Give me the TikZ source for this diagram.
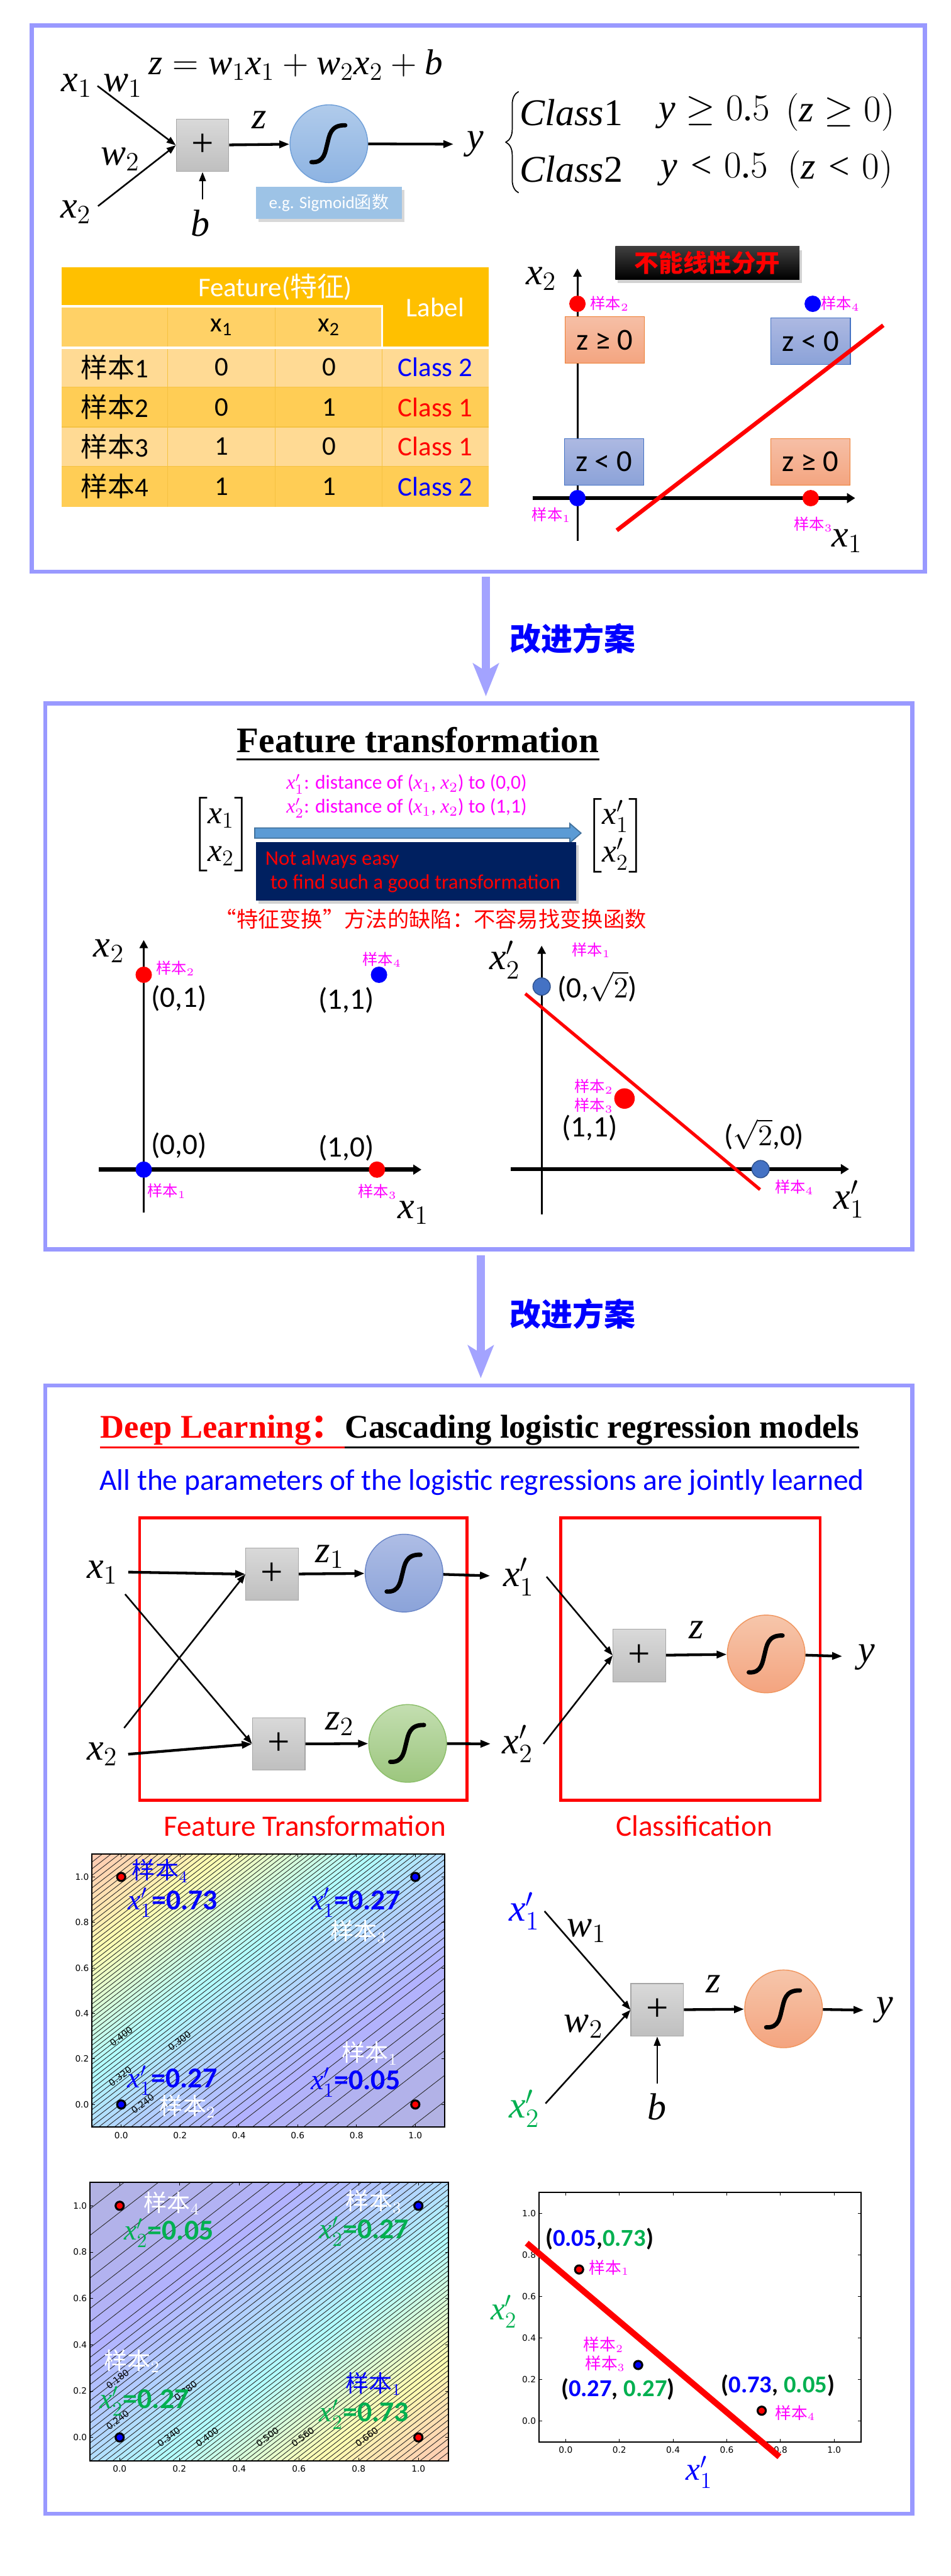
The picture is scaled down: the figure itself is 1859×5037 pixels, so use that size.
\documentclass[tikz,border=0pt]{standalone}
\usepackage{fix-cm}
\usepackage{amsmath}
\usepackage{fontspec}
\setmainfont{Liberation Serif}
\setsansfont{Carlito}
\newfontfamily\cjk{Noto Sans CJK SC}
\newfontfamily\dvs{DejaVu Sans}
\newfontfamily\lsr{Liberation Serif}[NFSSFamily=libser]
\DeclareSymbolFont{operators}{TU}{libser}{m}{n}
\DeclareSymbolFont{letters}{TU}{libser}{m}{it}
\mathcode`\,="602C
\mathcode`\.="002E
\usetikzlibrary{arrows.meta, positioning, shadows, decorations.pathreplacing, calc}

\definecolor{lav}{HTML}{9999FF}
\definecolor{lavarr}{HTML}{A3A3FF}
\definecolor{pluse}{HTML}{A6A6A6}
\definecolor{plust}{HTML}{D9D9D9}
\definecolor{plusb}{HTML}{BFBFBF}
\definecolor{skye}{HTML}{6F9FD8}
\definecolor{skyt}{HTML}{B0CBEB}
\definecolor{skyb}{HTML}{8DB3E2}
\definecolor{bluee}{HTML}{6A86C8}
\definecolor{bluet}{HTML}{AEBDE5}
\definecolor{blueb}{HTML}{8BA3D9}
\definecolor{grne}{HTML}{8CBF6A}
\definecolor{grnt}{HTML}{C3DEB0}
\definecolor{grnb}{HTML}{9CC67E}
\definecolor{orae}{HTML}{F0955E}
\definecolor{orat}{HTML}{F6C6AB}
\definecolor{orab}{HTML}{F4A47F}
\definecolor{egblue}{HTML}{9DC3E6}
\definecolor{tabhead}{HTML}{FFC000}
\definecolor{tabsub}{HTML}{FFD166}
\definecolor{tablight}{HTML}{FFDA94}
\definecolor{tabdark}{HTML}{FFCD55}
\definecolor{tabline}{HTML}{F5C242}
\definecolor{sale}{HTML}{ED7D31}
\definecolor{salt}{HTML}{F6BFA6}
\definecolor{salb}{HTML}{F4A580}
\definecolor{zbe}{HTML}{4472C4}
\definecolor{zbt}{HTML}{ADB9E2}
\definecolor{zbb}{HTML}{8BA2D8}
\definecolor{tfblue}{HTML}{5B9BD5}
\definecolor{tfedge}{HTML}{41719C}
\definecolor{navy}{HTML}{002060}
\definecolor{steel}{HTML}{4472C4}
\definecolor{steele}{HTML}{2F528F}
\definecolor{mag}{HTML}{FF00FF}
\definecolor{grn}{HTML}{00B050}

\newcommand\jetcolor[1]{%
  \pgfmathsetmacro\jr{0.7+0.3*max(0,min(1,1.5-abs(4*(#1)-3)))}%
  \pgfmathsetmacro\jg{0.7+0.3*max(0,min(1,1.5-abs(4*(#1)-2)))}%
  \pgfmathsetmacro\jb{0.7+0.3*max(0,min(1,1.5-abs(4*(#1)-1)))}%
  \definecolor{bandc}{rgb}{\jr,\jg,\jb}}

\newcommand\plotframe[1]{%
  \draw[line width=0.7pt] (-0.1,-0.1) rectangle (1.1,1.1);
  \foreach \t/\lab [count=\i] in {0/0.0,0.2/0.2,0.4/0.4,0.6/0.6,0.8/0.8,1/1.0}{
    \draw[line width=0.3pt] (\t,-0.1) -- ++(0,0.6mm) (\t,1.1) -- ++(0,-0.6mm)
      (-0.1,\t) -- ++(0.6mm,0) (1.1,\t) -- ++(-0.6mm,0);
    \node[tklab, anchor=north] (#1x\i) at ([yshift=-0.9mm]\t,-0.1) {\lab};
    \node[tklab, anchor=east] (#1y\i) at ([xshift=-0.5mm]-0.1,\t) {\lab};
  }}

\begin{document}
\begin{tikzpicture}[x=0.1mm, y=-0.1mm,
  mth/.style={inner sep=0pt, font=\fontsize{21}{21}\selectfont},
  mtx/.style={inner sep=0pt, font=\fontsize{18}{21}\selectfont},
  bigbox/.style={draw=lav, line width=2.3pt},
  lavarrow/.style={draw=lavarr, line width=4.6pt, -{Stealth[length=6.4mm, width=5mm, inset=1.5mm, fill=lavarr]}},
  plusbox/.style={draw=pluse, top color=plust, bottom color=plusb, minimum size=10.3mm, inner sep=0pt, font=\fontsize{22}{22}\selectfont},
  sigb/.style={circle, minimum size=15.2mm, inner sep=0pt, draw=#1e, top color=#1t, bottom color=#1b, line width=0.5pt},
  arr/.style={line width=1.5pt, -{Triangle[length=2mm, width=1.4mm]}},
  thinarr/.style={line width=0.9pt, -{Triangle[length=1.8mm, width=1.3mm]}},
  smp/.style={inner sep=0pt, text=mag, font=\cjk\fontsize{8.5}{8.5}\selectfont},
  crd/.style={inner sep=0pt, font=\sffamily\fontsize{16.5}{16.5}\selectfont},
  tabtxt/.style={inner sep=0pt, font=\sffamily\fontsize{15}{15}\selectfont},
  zbox/.style={draw=#1e, top color=#1t, bottom color=#1b, minimum width=15.5mm, minimum height=9.1mm, inner sep=0pt, font=\sffamily\fontsize{17}{17}\selectfont},
  improve/.style={inner sep=0pt, text=blue, font=\cjk\bfseries\fontsize{17.5}{17.5}\selectfont},
  egbox/.style={fill=egblue, text=white, minimum width=28.5mm, minimum height=6.3mm, inner sep=0pt, font=\sffamily\fontsize{9.5}{9.5}\selectfont, drop shadow={shadow xshift=0.5mm, shadow yshift=-0.6mm, opacity=0.3}},
  blkbox/.style={top color=black!75, bottom color=black, text=red, minimum width=36mm, minimum height=6.4mm, inner sep=0pt, font=\cjk\bfseries\fontsize{13.5}{13.5}\selectfont, drop shadow={shadow xshift=0.5mm, shadow yshift=-0.7mm, opacity=0.35}},
  navybox/.style={fill=navy, minimum width=62.6mm, minimum height=11.5mm, inner sep=0pt, drop shadow={shadow xshift=0.5mm, shadow yshift=-0.6mm, opacity=0.35}},
  navtxt/.style={inner sep=0pt, text=red, font=\sffamily\fontsize{11.5}{11.5}\selectfont},
  ttl/.style={inner sep=0pt, font=\bfseries\fontsize{20}{20}\selectfont},
  redbox/.style={draw=red, line width=1.7pt},
  redlab/.style={inner sep=0pt, text=red, font=\sffamily\fontsize{16.5}{16.5}\selectfont},
  tklab/.style={inner sep=0pt, font=\dvs\fontsize{4.8}{4.8}\selectfont},
  clab/.style={inner sep=0pt, rotate=37, font=\dvs\fontsize{5}{5}\selectfont},
  smpbig/.style={inner sep=0pt, font=\cjk\fontsize{13}{13}\selectfont},
  valtxt/.style={inner sep=0pt, font=\sffamily\bfseries\fontsize{16}{16}\selectfont},
  ptxt/.style={inner sep=0pt, font=\sffamily\bfseries\fontsize{13.5}{13.5}\selectfont},
  cline/.style={line width=0.3pt, black!85},
  mk/.style={draw=black, line width=1.1pt},
  sshape/.pic={\draw[line width=2.4pt, line cap=round] (-34,36) .. controls (-8,38) and (-7,14) .. (-3,0) .. controls (1,-16) and (3,-37) .. (32,-36);},
]
\useasboundingbox (0,0) rectangle (1859,5037);
\fill[white] (0,0) rectangle (1859,5037);

% panel 1
\node[bigbox, minimum width=174.6mm, minimum height=106.8mm] (boxA) at (935,584) {};
\node[plusbox] (sumA) at (396,284) {+};
\node[sigb=sky] (sigA) at (643,281) {};
\pic at (sigA) {sshape};
\node[mth, font=\fontsize{20}{20}\selectfont] (eqA) at (578,127) {$z=w_1x_1+w_2x_2+b$};
\node[mth] (xA1) at (150,168) {$x_1$};
\node[mth] (wA1) at (240,168) {$w_1$};
\node[mth] (wA2) at (235,311) {$w_2$};
\node[mth] (xA2) at (148,415) {$x_2$};
\node[mth] (bA) at (392,437) {$b$};
\node[mth] (zA) at (507,235) {$z$};
\node[mth] (yA) at (930,282) {$y$};
\node[egbox] (egA) at (643,397) {e.g. Sigmoid{\cjk 函数}};
\draw[thinarr] ([xshift=1mm]xA1.east) -- (sumA.west);
\draw[thinarr] ([xshift=1.3mm, yshift=1.2mm]xA2.east) -- (sumA.west);
\draw[thinarr] ($(sumA.south |- bA.north)+(0,-20)$) -- (sumA.south);
\draw[arr] (sumA) -- (sigA);
\draw[arr, shorten >=2.6mm] (sigA) -- (yA);

\draw[decorate, decoration={brace, amplitude=2.5mm}, line width=0.6pt] (1014,377) -- (1014,179);
\node[mth] (c1a) at (1117,220) {\textit{Class}1};
\node[mth] (c1b) at (1397,220) {$y\geq0.5$};
\node[mth] (c1c) at (1643,220) {$(z\geq0)$};
\node[mth] (c2a) at (1117,331) {\textit{Class}2};
\node[mth] (c2b) at (1397,331) {$y<0.5$};
\node[mth] (c2c) at (1643,331) {$(z<0)$};

\fill[tabhead] (121,523) rectangle (956,599);
\fill[tabhead] (747,599) rectangle (956,680);
\fill[tabsub] (121,599) rectangle (747,680);
\fill[tablight] (121,680) rectangle (956,757);
\fill[tabdark] (121,757) rectangle (956,835);
\fill[tablight] (121,835) rectangle (956,912);
\fill[tabdark] (121,912) rectangle (956,991);
\draw[tabline, line width=0.5pt] (121,757) -- (956,757) (121,835) -- (956,835) (121,912) -- (956,912)
  (328,599) -- (328,991) (538,599) -- (538,991) (747,680) -- (747,991);
\draw[white, line width=1.3pt] (121,599) -- (747,599) -- (747,680) (121,680) -- (956,680);
\node[tabtxt, text=white] (tFeat) at (538,561) {Feature({\cjk 特征})};
\node[tabtxt, text=white] (tLab) at (851,601) {Label};
\node[tabtxt] (tX1) at (433,640) {x\textsubscript{1}};
\node[tabtxt] (tX2) at (643,640) {x\textsubscript{2}};
\foreach \r/\y/\a/\b/\c/\col in {1/718/0/0/2/blue, 2/796/0/1/1/red, 3/873/1/0/1/red, 4/951/1/1/2/blue}{
  \node[tabtxt] (tS\r) at (224,\y) {{\cjk 样本}\r};
  \node[tabtxt] (tA\r) at (433,\y) {\a};
  \node[tabtxt] (tB\r) at (643,\y) {\b};
  \node[tabtxt, text=\col] (tC\r) at (851,\y) {Class \c};
}

\draw[line width=1.1pt, -{Triangle[length=1.6mm, width=1.6mm]}] (1129,1058) -- (1129,525);
\draw[line width=2.3pt, -{Triangle[length=1.6mm, width=1.9mm]}] (1041,974) -- (1672,974);
\node[mth] (ax2A) at (1058,545) {$x_2$};
\node[mth] (ax1A) at (1656,1058) {$x_1$};
\node[zbox=sal] (zrA1) at (1182,665) {z ≥ 0};
\node[zbox=zb] (zrA2) at (1585,667) {z < 0};
\node[zbox=zb] (zrA3) at (1181,903) {z < 0};
\node[zbox=sal] (zrA4) at (1584,903) {z ≥ 0};
\draw[red, line width=2.3pt] (1206,1037) -- (1727,636);
\fill[red] (1129,594) circle[radius=1.6mm];
\fill[blue] (1589,594) circle[radius=1.6mm];
\fill[blue] (1129,974) circle[radius=1.6mm];
\fill[red] (1585,974) circle[radius=1.6mm];
\node[smp] (sA2) at (1192,594) {样本$_2$};
\node[smp] (sA4) at (1643,594) {样本$_4$};
\node[smp] (sA1) at (1078,1007) {样本$_1$};
\node[smp] (sA3) at (1590,1025) {样本$_3$};
\node[blkbox] (nolin) at (1383,514) {不能线性分开};

% arrow to panel 2
\node[bigbox, minimum width=169.5mm, minimum height=106.7mm] (boxB) at (936,1909) {};
\coordinate (arrA) at (950,0);
\draw[lavarrow, shorten <=0.6mm, shorten >=1mm] (boxA.south -| arrA) -- (boxB.north -| arrA);
\node[improve] (impA) at (1120,1248) {改进方案};

% panel 2
\node[ttl, anchor=base] (ftTitle) at (817,1471) {Feature transformation};
\draw[line width=0.9pt] ($(ftTitle.base west)+(0,14)$) -- ($(ftTitle.base east)+(0,14)$);
\node[inner sep=0pt, text=mag, font=\sffamily\fontsize{11}{11}\selectfont] (dst1) at (795,1533) {$x_1'$: distance of ($x_1$, $x_2$) to (0,0)};
\node[inner sep=0pt, text=mag, font=\sffamily\fontsize{11}{11}\selectfont] (dst2) at (795,1580) {$x_2'$: distance of ($x_1$, $x_2$) to (1,1)};
\node[mtx] (mIn) at (432,1632) {$\begin{bmatrix}x_1\\x_2\end{bmatrix}$};
\node[mtx] (mOut) at (1203,1634) {$\begin{bmatrix}x_1'\\x_2'\end{bmatrix}$};
\fill[tfblue, draw=tfedge, line width=0.6pt] (498,1619) -- (1114,1619) -- (1114,1610) -- (1136,1629) -- (1114,1648) -- (1114,1639) -- (498,1639) -- cycle;
\node[navybox] (hard) at (813,1704) {};
\node[navtxt, anchor=west] (hard1) at (518,1681) {Not always easy};
\node[navtxt, anchor=west] (hard2) at (528,1728) {to find such a good transformation};
\node[inner sep=0pt, text=red, font=\cjk\fontsize{12}{12}\selectfont] (defect) at (842,1797) {“特征变换”方法的缺陷：不容易找变换函数};

\draw[line width=1.1pt, -{Triangle[length=1.6mm, width=1.6mm]}] (281,2371) -- (281,1838);
\draw[line width=2.3pt, -{Triangle[length=1.6mm, width=1.9mm]}] (193,2287) -- (824,2287);
\node[mth] (lx2) at (213,1859) {$x_2$};
\node[mth] (lx1) at (808,2371) {$x_1$};
\fill[red] (281,1906) circle[radius=1.6mm];
\fill[blue] (741,1906) circle[radius=1.6mm];
\fill[blue] (281,2287) circle[radius=1.6mm];
\fill[red] (737,2287) circle[radius=1.6mm];
\node[smp] (sB2) at (343,1893) {样本$_2$};
\node[smp] (sB4) at (747,1876) {样本$_4$};
\node[smp] (sB1) at (326,2329) {样本$_1$};
\node[smp] (sB3) at (738,2330) {样本$_3$};
\node[crd] (cB01) at (350,1952) {(0,1)};
\node[crd] (cB11) at (677,1956) {(1,1)};
\node[crd] (cB00) at (350,2240) {(0,0)};
\node[crd] (cB10) at (677,2245) {(1,0)};

\draw[line width=1.1pt, -{Triangle[length=1.6mm, width=1.6mm]}] (1059,2374) -- (1059,1849);
\draw[line width=2.3pt, -{Triangle[length=1.6mm, width=1.9mm]}] (999,2286) -- (1660,2286);
\node[mth] (rx2) at (987,1877) {$x_2'$};
\node[mth] (rx1) at (1660,2345) {$x_1'$};
\draw[red, line width=1.8pt] (1027,1943) -- (1486,2326);
\filldraw[fill=steel, draw=steele, line width=0.5pt] (1059,1929) circle[radius=1.7mm];
\filldraw[fill=steel, draw=steele, line width=0.5pt] (1487,2286) circle[radius=1.7mm];
\fill[red] (1221,2148) circle[radius=2mm];
\node[smp] (sC1) at (1156,1858) {样本$_1$};
\node[smp] (sC2) at (1161,2125) {样本$_2$};
\node[smp] (sC3) at (1161,2161) {样本$_3$};
\node[smp] (sC4) at (1553,2322) {样本$_4$};
\node[crd] (cC0r) at (1168,1929) {(0,$\sqrt{2}$)};
\node[crd] (cC11) at (1153,2205) {(1,1)};
\node[crd] (cCr0) at (1494,2218) {($\sqrt{2}$,0)};

% arrow to panel 3
\node[bigbox, minimum width=169.5mm, minimum height=220.6mm] (boxC) at (936,3812) {};
\coordinate (arrB) at (940,0);
\draw[lavarrow, shorten <=0.8mm, shorten >=1mm] (boxB.south -| arrB) -- (boxC.north -| arrB);
\node[improve] (impB) at (1120,2569) {改进方案};

% panel 3
\node[ttl, anchor=base west, text=red, font=\bfseries\fontsize{18.4}{18.4}\selectfont] (dlA) at (196,2812) {Deep Learning{\cjk ：}};
\node[ttl, anchor=base west, font=\bfseries\fontsize{18.4}{18.4}\selectfont] (dlB) at (dlA.base east) {Cascading logistic regression models};
\draw[red, line width=0.9pt] ($(dlA.base west)+(0,18)$) -- ($(dlB.base west)+(0,18)$);
\draw[line width=0.9pt] ($(dlB.base west)+(0,18)$) -- ($(dlB.base east)+(0,18)$);
\node[inner sep=0pt, text=blue, font=\sffamily\fontsize{16.6}{16.6}\selectfont] (joint) at (942,2898) {All the parameters of the logistic regressions are jointly learned};

\node[redbox, minimum width=64mm, minimum height=55.2mm] (ftBox) at (593,3244) {};
\node[redbox, minimum width=50.7mm, minimum height=55.2mm] (clsBox) at (1350,3244) {};
\node[redlab] (ftLab) at (596,3570) {Feature Transformation};
\node[redlab] (clsLab) at (1357,3570) {Classification};

\node[mth] (xB1) at (200,3074) {$x_1$};
\node[mth] (xB2) at (200,3430) {$x_2$};
\node[plusbox] (sumB1) at (532,3078) {+};
\node[plusbox] (sumB2) at (545,3410) {+};
\node[mth] (zB1) at (645,3044) {$z_1$};
\node[mth] (zB2) at (664,3371) {$z_2$};
\node[sigb=blue] (sigB1) at (790,3076) {};
\node[sigb=grn] (sigB2) at (797,3409) {};
\pic at (sigB1) {sshape};
\pic at (sigB2) {sshape};
\node[mth] (xpB1) at (1014,3083) {$x_1'$};
\node[mth] (xpB2) at (1012,3410) {$x_2'$};
\node[plusbox] (sumB3) at (1250,3237) {+};
\node[mth] (zB3) at (1362,3187) {$z$};
\node[sigb=ora] (sigB3) at (1498,3234) {};
\pic at (sigB3) {sshape};
\node[mth] (yB) at (1694,3240) {$y$};
\draw[arr] ([xshift=2mm]xB1.east) -- (sumB1.west);
\draw[arr] ([xshift=2mm]xB2.east) -- (sumB2.west);
\draw[thinarr] ([xshift=1.4mm, yshift=-2mm]xB1.south east) -- (sumB2.west);
\draw[thinarr] ([xshift=1.2mm, yshift=2.8mm]xB2.north east) -- (sumB1.west);
\draw[arr] (sumB1) -- (sigB1);
\draw[arr] (sumB2) -- (sigB2);
\draw[arr, shorten >=2.5mm] (sigB1) -- (xpB1);
\draw[arr, shorten >=2.2mm] (sigB2) -- (xpB2);
\draw[thinarr] ([xshift=2.4mm]xpB1.east) -- (sumB3.west);
\draw[thinarr] ([xshift=2mm]xpB2.east) -- (sumB3.west);
\draw[arr] (sumB3) -- (sigB3);
\draw[arr, shorten >=3mm] (sigB3) -- (yB);

% contour of x1'
\begin{scope}[shift={(237,4115)}, x=57.5mm, y=44.5mm]
  \begin{scope}
    \clip (-0.1,-0.1) rectangle (1.1,1.1);
    \jetcolor{0.005}
    \fill[bandc] (-0.1,-0.1) rectangle (1.1,1.1);
    \foreach \lv in {0.01,0.02,...,0.8}{
      \pgfmathsetmacro\kk{(ln(\lv/(1-\lv))+1)/2}
      \jetcolor{\lv+0.005}
      \fill[bandc] (-0.5,-0.5+\kk) -- (1.5,1.5+\kk) -- (1.5,3) -- (-0.5,3) -- cycle;
    }
    \foreach \lv in {0.01,0.02,...,0.8}{
      \pgfmathsetmacro\kk{(ln(\lv/(1-\lv))+1)/2}
      \draw[cline] (-0.5,-0.5+\kk) -- (1.5,1.5+\kk);
    }
  \end{scope}
  \plotframe{pA}
  \draw[mk, fill=red] (0,1) circle[radius=0.8mm];
  \draw[mk, fill=blue] (1,1) circle[radius=0.8mm];
  \draw[mk, fill=blue] (0,0) circle[radius=0.8mm];
  \draw[mk, fill=red] (1,0) circle[radius=0.8mm];
\end{scope}
\node[clab] (kA1) at (237,3982) {0.400};
\node[clab] (kA2) at (351,3991) {0.300};
\node[clab] (kA3) at (235,4060) {0.320};
\node[clab] (kA4) at (279,4114) {0.240};
\node[smpbig, text=blue] (pAs4) at (313,3658) {样本$_4$};
\node[valtxt, text=blue] (pAv4) at (338,3720) {$x_1'$=0.73};
\node[valtxt, text=blue] (pAv3) at (695,3720) {$x_1'$=0.27};
\node[smpbig, text=white] (pAs3) at (701,3777) {样本$_3$};
\node[smpbig, text=white] (pAs1) at (723,4015) {样本$_1$};
\node[valtxt, text=blue] (pAv1) at (695,4072) {$x_1'$=0.05};
\node[valtxt, text=blue] (pAv2) at (337,4068) {$x_1'$=0.27};
\node[smpbig, text=white] (pAs2) at (367,4119) {样本$_2$};

% contour of x2'
\begin{scope}[shift={(234,4766)}, x=58.4mm, y=45.3mm]
  \begin{scope}
    \clip (-0.1,-0.1) rectangle (1.1,1.1);
    \jetcolor{0.005}
    \fill[bandc] (-0.1,-0.1) rectangle (1.1,1.1);
    \foreach \lv in {0.01,0.02,...,0.8}{
      \pgfmathsetmacro\kk{(ln(\lv/(1-\lv))+1)/2}
      \jetcolor{\lv+0.005}
      \fill[bandc] (-0.5,-0.5-\kk) -- (1.5,1.5-\kk) -- (1.5,-3) -- (-0.5,-3) -- cycle;
    }
    \foreach \lv in {0.01,0.02,...,0.8}{
      \pgfmathsetmacro\kk{(ln(\lv/(1-\lv))+1)/2}
      \draw[cline] (-0.5,-0.5-\kk) -- (1.5,1.5-\kk);
    }
  \end{scope}
  \plotframe{pB}
  \draw[mk, fill=red] (0,1) circle[radius=0.8mm];
  \draw[mk, fill=blue] (1,1) circle[radius=0.8mm];
  \draw[mk, fill=blue] (0,0) circle[radius=0.8mm];
  \draw[mk, fill=red] (1,0) circle[radius=0.8mm];
\end{scope}
\node[clab] (kB1) at (230,4652) {0.180};
\node[clab] (kB2) at (363,4675) {0.280};
\node[clab] (kB3) at (230,4732) {0.240};
\node[clab] (kB4) at (330,4765) {0.340};
\node[clab] (kB5) at (405,4765) {0.400};
\node[clab] (kB6) at (523,4765) {0.500};
\node[clab] (kB7) at (592,4765) {0.560};
\node[clab] (kB8) at (717,4765) {0.660};
\node[smpbig, text=white] (pBs4) at (336,4308) {样本$_4$};
\node[valtxt, text=grn] (pBv4) at (330,4366) {$x_2'$=0.05};
\node[smpbig, text=white] (pBs3) at (731,4305) {样本$_3$};
\node[valtxt, text=grn] (pBv3) at (712,4363) {$x_2'$=0.27};
\node[smpbig, text=white] (pBs2) at (258,4617) {样本$_2$};
\node[valtxt, text=grn] (pBv2) at (282,4695) {$x_2'$=0.27};
\node[smpbig, text=blue] (pBs1) at (730,4661) {样本$_1$};
\node[valtxt, text=grn] (pBv1) at (712,4721) {$x_2'$=0.73};

% second layer
\node[mth, text=blue] (xpC1) at (1025,3737) {$x_1'$};
\node[mth] (wC1) at (1147,3776) {$w_1$};
\node[mth] (wC2) at (1141,3962) {$w_2$};
\node[mth, text=grn] (xpC2) at (1025,4123) {$x_2'$};
\node[plusbox] (sumC) at (1285,3930) {+};
\node[mth] (bC) at (1284,4120) {$b$};
\node[mth] (zC) at (1395,3880) {$z$};
\node[sigb=ora] (sigC) at (1532,3928) {};
\pic at (sigC) {sshape};
\node[mth] (yC) at (1730,3931) {$y$};
\draw[thinarr] ([xshift=0.9mm]xpC1.east) -- (sumC.west);
\draw[thinarr] ([xshift=1.1mm, yshift=1mm]xpC2.east) -- (sumC.west);
\draw[thinarr] ($(sumC.south |- bC.north)+(0,-19)$) -- (sumC.south);
\draw[arr] (sumC) -- (sigC);
\draw[arr, shorten >=2.4mm] (sigC) -- (yC);

% scatter of x1', x2'
\begin{scope}[shift={(1106,4734)}, x=52.5mm, y=40.6mm]
  \plotframe{pC}
  \draw[red, line width=3.4pt] (-0.145,0.857) -- (0.796,-0.172);
  \draw[mk, fill=red] (0.05,0.73) circle[radius=0.8mm];
  \draw[mk, fill=blue] (0.27,0.27) circle[radius=0.8mm];
  \draw[mk, fill=red] (0.73,0.05) circle[radius=0.8mm];
\end{scope}
\node[ptxt] (pCa) at (1172,4378) {(\textcolor{blue}{0.05},\textcolor{grn}{0.73})};
\node[smp, font=\cjk\fontsize{9}{9}\selectfont] (pCs1) at (1191,4434) {样本$_1$};
\node[smp, font=\cjk\fontsize{9}{9}\selectfont] (pCs2) at (1180,4585) {样本$_2$};
\node[smp, font=\cjk\fontsize{9}{9}\selectfont] (pCs3) at (1183,4622) {样本$_3$};
\node[ptxt] (pCb) at (1208,4672) {(\textcolor{blue}{0.27}, \textcolor{grn}{0.27})};
\node[ptxt] (pCc) at (1521,4665) {(\textcolor{blue}{0.73}, \textcolor{grn}{0.05})};
\node[smp, font=\cjk\fontsize{9}{9}\selectfont] (pCs4) at (1555,4718) {样本$_4$};
\node[inner sep=0pt, text=grn, font=\fontsize{18}{18}\selectfont] (pCy) at (985,4520) {$x_2'$};
\node[inner sep=0pt, text=blue, font=\fontsize{18}{18}\selectfont] (pCx) at (1367,4834) {$x_1'$};
\end{tikzpicture}
\end{document}
